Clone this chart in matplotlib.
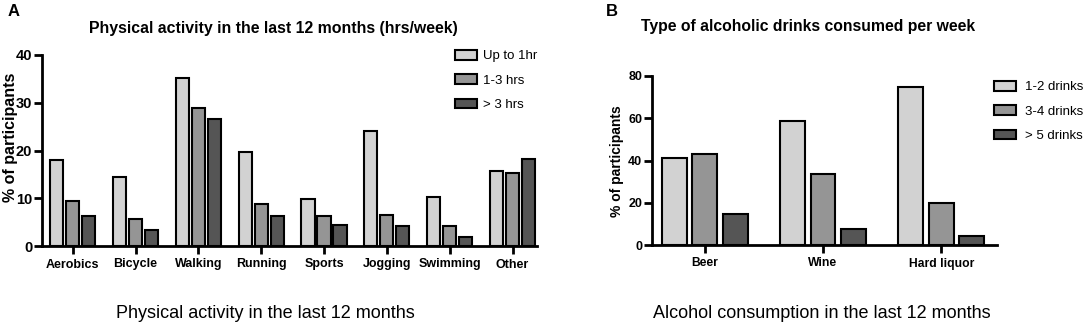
import matplotlib
matplotlib.use("Agg")
import matplotlib.pyplot as plt
import numpy as np

plt.rcParams['font.family'] = ['Liberation Sans', 'DejaVu Sans']

activities = ["Aerobics", "Bicycle", "Walking", "Running", "Sports", "Jogging", "Swimming", "Other"]
act_labels = ["Up to 1hr", "1-3 hrs", "> 3 hrs"]
act_upto1 = [18.0, 14.5, 35.2, 19.6, 9.8, 24.0, 10.2, 15.7]
act_1to3 = [9.5, 5.6, 28.8, 8.8, 6.2, 6.5, 4.2, 15.3]
act_over3 = [6.3, 3.3, 26.5, 6.2, 4.4, 4.2, 1.8, 18.2]

drinks = ["Beer", "Wine", "Hard liquor"]
drink_labels = ["1-2 drinks", "3-4 drinks", "> 5 drinks"]
drink_1to2 = [41.3, 58.7, 75.0]
drink_3to4 = [43.1, 33.4, 19.8]
drink_over5 = [14.6, 7.5, 4.4]

colors = ["#d2d2d2", "#959595", "#555555"]

W, H = 1084, 327
fig = plt.figure(figsize=(W / 100, H / 100), dpi=100)

def px_axes(x0, y_top, x1, y_bot):
    return fig.add_axes([x0 / W, 1 - y_bot / H, (x1 - x0) / W, (y_bot - y_top) / H])

def style(ax, ysize, xsize):
    for s in ["top", "right"]:
        ax.spines[s].set_visible(False)
    for s in ["left", "bottom"]:
        ax.spines[s].set_linewidth(2)
    ax.tick_params(axis="both", width=2, length=6, direction="out")
    ax.tick_params(axis="y", labelsize=ysize, pad=1)
    ax.tick_params(axis="x", labelsize=xsize, pad=3)
    for lab in ax.get_xticklabels() + ax.get_yticklabels():
        lab.set_fontweight("bold")

# Panel A
axA = px_axes(42, 55, 537, 246)
x = np.arange(len(activities))
bw, pitch = 0.21, 0.255
for i, (vals, lab) in enumerate(zip([act_upto1, act_1to3, act_over3], act_labels)):
    axA.bar(x + (i - 1) * pitch, vals, bw, color=colors[i], edgecolor="black", linewidth=1.5, label=lab, zorder=3)
axA.set_xlim(-0.49, 7.39)
axA.set_ylim(0, 40)
axA.set_yticks([0, 10, 20, 30, 40])
axA.set_xticks(x)
axA.set_xticklabels(activities)
axA.set_ylabel("% of participants", fontsize=11.5, fontweight="bold")
axA.yaxis.set_label_coords(18 / W, 1 - 137 / H, transform=fig.transFigure)
style(axA, 10.5, 9)
axA.legend(loc="upper left", bbox_to_anchor=(455 / W, 1 - 50 / H), bbox_transform=fig.transFigure,
           frameon=False, fontsize=9.5, handlelength=1.65, handleheight=0.75, labelspacing=0.9,
           handletextpad=0.5, borderpad=0, borderaxespad=0)

# Panel B
axB = px_axes(652, 76, 997, 245)
xb = np.arange(len(drinks))
bwb, pitchb = 0.21, 0.258
for i, (vals, lab) in enumerate(zip([drink_1to2, drink_3to4, drink_over5], drink_labels)):
    axB.bar(xb + (i - 1) * pitchb, vals, bwb, color=colors[i], edgecolor="black", linewidth=1.5, label=lab, zorder=3)
axB.set_xlim(-0.445, 2.47)
axB.set_ylim(0, 80)
axB.set_yticks([0, 20, 40, 60, 80])
axB.set_xticks(xb)
axB.set_xticklabels(drinks)
axB.set_ylabel("% of participants", fontsize=10, fontweight="bold")
axB.yaxis.set_label_coords(624 / W, 1 - 161 / H, transform=fig.transFigure)
style(axB, 9, 8.7)
axB.legend(loc="upper left", bbox_to_anchor=(994 / W, 1 - 81 / H), bbox_transform=fig.transFigure,
           frameon=False, fontsize=9.5, handlelength=1.65, handleheight=0.75, labelspacing=0.9,
           handletextpad=0.7, borderpad=0, borderaxespad=0)

# Titles and labels
fig.text(8 / W, 1 - 11 / H, "A", fontsize=12, fontweight="bold", ha="left", va="center")
fig.text(606 / W, 1 - 11 / H, "B", fontsize=12, fontweight="bold", ha="left", va="center")
fig.text(273 / W, 1 - 28 / H, "Physical activity in the last 12 months (hrs/week)", fontsize=11.4,
         fontweight="bold", ha="center", va="center")
fig.text(808 / W, 1 - 27 / H, "Type of alcoholic drinks consumed per week", fontsize=11.3,
         fontweight="bold", ha="center", va="center")
fig.text(265 / W, 1 - 313 / H, "Physical activity in the last 12 months", fontsize=13,
         ha="center", va="center")
fig.text(822 / W, 1 - 313 / H, "Alcohol consumption in the last 12 months", fontsize=13,
         ha="center", va="center")

fig.savefig("out.png", dpi=100)
